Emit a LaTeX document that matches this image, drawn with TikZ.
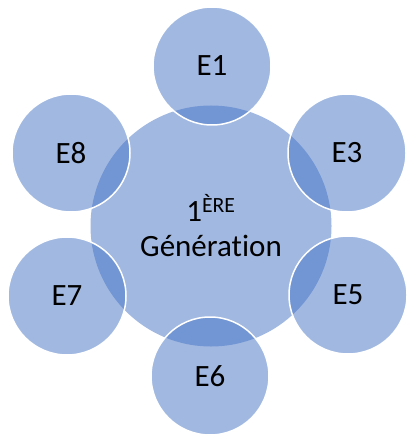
\documentclass[tikz,border=0pt]{standalone}
\usepackage{fontspec}
\setmainfont[Ligatures={NoCommon}]{Carlito}
\usepackage{tikz}

\definecolor{accentblue}{HTML}{4472C4}

\tikzset{
  bigdisc/.style={circle,fill=accentblue,fill opacity=0.5,text opacity=1,
    minimum size=241pt,inner sep=0pt,align=center,
    font=\fontsize{31}{35}\selectfont},
  smalldisc/.style={circle,draw=white,line width=1.5pt,fill=accentblue,
    fill opacity=0.5,draw opacity=1,text opacity=1,minimum size=118pt,
    inner sep=0pt,font=\fontsize{31}{35}\selectfont}
}

\begin{document}
\begin{tikzpicture}[x=1pt,y=-1pt]
\useasboundingbox (0,0) rectangle (406,438);

\node[bigdisc] (gen) at (211,226) {1\textsuperscript{ÈRE}\\Génération};

\node[smalldisc] (e1) at (212,66) {E1};
\node[smalldisc] (e3) at (347,153) {E3};
\node[smalldisc] (e5) at (348,295) {E5};
\node[smalldisc] (e6) at (210,376) {E6};
\node[smalldisc] (e7) at (67,296) {E7};
\node[smalldisc] (e8) at (71,153) {E8};
\end{tikzpicture}
\end{document}
